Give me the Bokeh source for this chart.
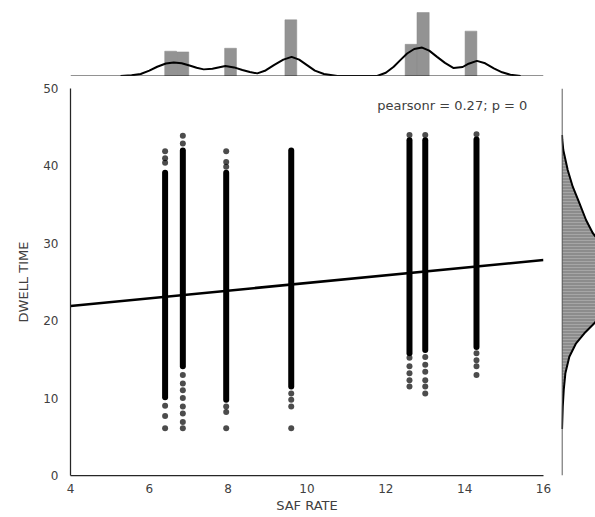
from bokeh.plotting import figure
from bokeh.layouts import column, row
from bokeh.models import Range1d, FixedTicker, Label, Span
from bokeh.embed import file_html
from bokeh.resources import INLINE

# ---------------- data ----------------
saf_rate = [6.4, 6.85, 7.95, 9.6, 12.6, 13.0, 14.3]
dwell_dense_low = [10.1, 14.1, 9.8, 11.5, 15.8, 16.2, 16.6]
dwell_dense_high = [39.1, 42.0, 39.1, 42.0, 43.3, 43.3, 43.4]

sparse_saf = ([6.4] * 6 + [6.85] * 10 + [7.95] * 6 + [9.6] * 4
              + [12.6] * 6 + [13.0] * 7 + [14.3] * 5)
sparse_dwell = [41.9, 41.0, 40.4, 9.0, 7.7, 6.1,
                43.9, 42.9, 13.0, 11.9, 11.0, 10.0, 8.9, 8.0, 6.9, 6.1,
                41.9, 40.5, 39.9, 8.9, 8.2, 6.1,
                10.6, 9.8, 8.9, 6.1,
                44.0, 15.2, 14.1, 13.2, 12.3, 11.5,
                44.0, 15.3, 14.3, 13.4, 12.3, 11.5, 10.6,
                44.1, 15.8, 14.9, 14.1, 13.0]

reg_x = [4.0, 16.0]
reg_y = [21.9, 27.85]
pearson_text = "pearsonr = 0.27; p = 0"

hist_left = [6.39, 6.69, 7.91, 9.44, 12.49, 12.79, 14.01]
hist_right = [6.69, 7.00, 8.21, 9.74, 12.79, 13.10, 14.31]
hist_density = [0.303, 0.294, 0.339, 0.686, 0.387, 0.775, 0.548]

kde_saf_x = [5.27, 5.55, 5.78, 6.0, 6.2, 6.42, 6.62, 6.82, 7.04, 7.2, 7.38, 7.6,
             7.93, 8.15, 8.36, 8.55, 8.74, 8.95, 9.16, 9.4, 9.61, 9.8, 10.0,
             10.2, 10.43, 10.77, 11.78, 12.0, 12.2, 12.38, 12.54, 12.72, 12.92,
             13.1, 13.3, 13.5, 13.72, 13.95, 14.1, 14.31, 14.52, 14.74, 14.95,
             15.16, 15.42]
kde_saf_density = [0.0, 0.008, 0.024, 0.065, 0.113, 0.152, 0.166, 0.155, 0.125,
                   0.100, 0.081, 0.088, 0.121, 0.105, 0.073, 0.048, 0.032, 0.068,
                   0.133, 0.200, 0.234, 0.200, 0.133, 0.065, 0.024, 0.0, 0.0,
                   0.040, 0.113, 0.200, 0.275, 0.330, 0.347, 0.310, 0.234, 0.160,
                   0.097, 0.110, 0.150, 0.185, 0.155, 0.093, 0.045, 0.016, 0.0]

kde_dwell_y = [6.0, 8.9, 11.05, 13.2, 15.35, 17.08, 18.37, 19.66, 21.5, 23.5,
               25.5, 27.5, 29.5, 31.33, 33.01, 35.21, 37.31, 39.47, 42.05,
               43.35, 44.0]
kde_dwell_density = [0.0, 0.0008, 0.0019, 0.0037, 0.0081, 0.0156, 0.0248,
                     0.0359, 0.048, 0.058, 0.062, 0.058, 0.047, 0.0341, 0.0267,
                     0.0192, 0.0119, 0.0063, 0.0014, 0.0003, 0.0]

x_ticks = [4, 6, 8, 10, 12, 14, 16]
y_ticks = [0, 10, 20, 30, 40, 50]

# ---------------- style ----------------
FONT = "DejaVu Sans"
TEXT = "#404040"
SPINE = "#262626"

x_range = Range1d(4, 16)
y_range = Range1d(0, 50)

# ---------------- main scatter ----------------
p = figure(width=553, height=441, x_range=x_range, y_range=y_range,
           output_backend="svg", toolbar_location=None,
           min_border_left=70, min_border_right=10,
           min_border_top=12, min_border_bottom=42,
           background_fill_color="white", border_fill_color="white")
p.outline_line_color = None
p.xgrid.visible = False
p.ygrid.visible = False

p.segment(x0=saf_rate, y0=dwell_dense_low, x1=saf_rate, y1=dwell_dense_high,
          line_width=6, line_cap="round", line_color="black")
p.scatter(sparse_saf, sparse_dwell, size=6, fill_color="black", fill_alpha=0.7,
          line_color=None)
p.line(reg_x, reg_y, line_width=2.5, line_color="black")

p.add_layout(Label(x=15.59, y=47.8, text=pearson_text, text_align="right",
                   text_baseline="middle", text_font=FONT,
                   text_font_size="13px", text_color=TEXT))

for ax in (p.xaxis[0], p.yaxis[0]):
    ax.axis_line_color = SPINE
    ax.axis_line_width = 1.25
    ax.major_tick_line_color = None
    ax.minor_tick_line_color = None
    ax.major_tick_out = 0
    ax.major_tick_in = 0
    ax.minor_tick_out = 0
    ax.major_label_text_font = FONT
    ax.major_label_text_font_size = "12px"
    ax.major_label_text_color = TEXT
    ax.axis_label_text_font = FONT
    ax.axis_label_text_font_size = "13px"
    ax.axis_label_text_font_style = "normal"
    ax.axis_label_text_color = TEXT

p.xaxis.ticker = FixedTicker(ticks=x_ticks)
p.yaxis.ticker = FixedTicker(ticks=y_ticks)
p.xaxis.axis_label = "SAF RATE"
p.yaxis.axis_label = "DWELL TIME"
p.xaxis.major_label_standoff = 8
p.xaxis.axis_label_standoff = 2
p.yaxis.major_label_standoff = 12
p.yaxis.axis_label_standoff = 9

# ---------------- top marginal ----------------
t = figure(width=553, height=76, x_range=x_range, y_range=Range1d(-0.006, 0.922),
           output_backend="svg", toolbar_location=None,
           x_axis_location=None, y_axis_location=None,
           min_border_left=70, min_border_right=10,
           min_border_top=0, min_border_bottom=0,
           background_fill_color="white", border_fill_color="white")
t.outline_line_color = None
t.grid.visible = False
t.quad(left=hist_left, right=hist_right, bottom=0, top=hist_density,
       fill_color="#939393", line_color="#8a8a8a", line_width=0.5)
t.line(kde_saf_x, kde_saf_density, line_width=2, line_color="black")
t.add_layout(Span(location=0, dimension="width", line_color=SPINE, line_width=1.25))

# ---------------- right marginal ----------------
r = figure(width=42, height=441, x_range=Range1d(-0.0006, 0.0372), y_range=y_range,
           output_backend="svg", toolbar_location=None,
           x_axis_location=None, y_axis_location=None,
           min_border_left=8, min_border_right=0,
           min_border_top=12, min_border_bottom=42,
           background_fill_color="white", border_fill_color="white")
r.outline_line_color = None
r.grid.visible = False
r.harea(x1=[0.0] * len(kde_dwell_y), x2=kde_dwell_density, y=kde_dwell_y,
        fill_color="#8c8c8c", hatch_pattern="horizontal_line",
        hatch_color="#a6a6a6", hatch_scale=3, hatch_weight=1)
r.line(kde_dwell_density, kde_dwell_y, line_width=2, line_color="black")
r.add_layout(Span(location=0, dimension="height", line_color="#555555", line_width=1.25))

layout = column(t, row(p, r))
open("out.html", "w").write(file_html(layout, INLINE))
